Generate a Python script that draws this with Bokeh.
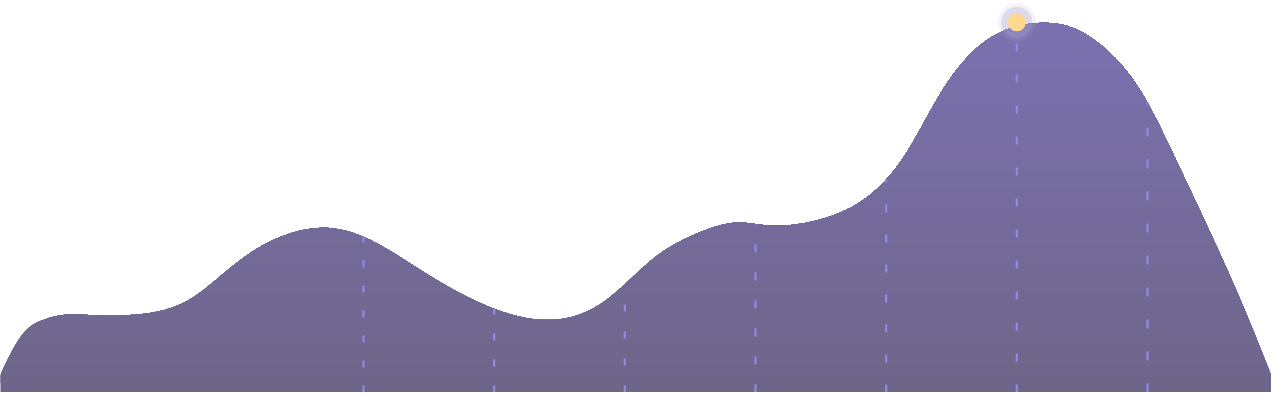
import numpy as np
from bokeh.plotting import figure
from bokeh.models import Range1d
from bokeh.embed import file_html
from bokeh.resources import INLINE

# ---- data ----
# profile of the smooth area: position (category index units) and value (0-100 scale)
profile_x = [0.16, 0.29, 0.41, 0.54, 0.67, 0.93, 1.18, 1.44, 1.69, 1.94, 2.20, 2.46,
             2.71, 3.01, 3.45, 3.96, 4.35, 4.85, 5.23, 5.59, 5.85, 6.11, 6.28, 6.49,
             6.69, 6.90, 7.15, 7.41, 7.66, 7.91, 8.12, 8.43, 8.68, 8.94, 9.21, 9.47,
             9.73, 10.0]
profile_v = [0.0, 9.9, 16.5, 19.5, 20.8, 20.9, 20.9, 22.0, 25.6, 32.5, 39.2, 43.2,
             44.5, 41.9, 32.8, 23.2, 19.7, 24.8, 36.5, 43.5, 45.9, 45.1, 45.3, 46.7,
             49.3, 54.1, 64.5, 80.5, 92.0, 97.9, 99.7, 98.5, 92.8, 81.9, 63.5, 44.0,
             23.5, 0.0]
# categories with a dashed drop line
guide_x = [3, 4, 5, 6, 7, 8, 9]
# highlighted maximum
peak_x = [8]
peak_v = [100.0]


def natural_spline(x, y, xs):
    x = np.asarray(x, float)
    y = np.asarray(y, float)
    n = len(x)
    h = np.diff(x)
    A = np.zeros((n, n))
    b = np.zeros(n)
    A[0, 0] = 1.0
    A[-1, -1] = 1.0
    for i in range(1, n - 1):
        A[i, i - 1] = h[i - 1]
        A[i, i] = 2 * (h[i - 1] + h[i])
        A[i, i + 1] = h[i]
        b[i] = 6 * ((y[i + 1] - y[i]) / h[i] - (y[i] - y[i - 1]) / h[i - 1])
    M = np.linalg.solve(A, b)
    k = np.clip(np.searchsorted(x, xs) - 1, 0, n - 2)
    hk = h[k]
    a = (x[k + 1] - xs) / hk
    c = (xs - x[k]) / hk
    return (a * y[k] + c * y[k + 1]
            + ((a**3 - a) * M[k] + (c**3 - c) * M[k + 1]) * hk**2 / 6.0)


xs = np.linspace(profile_x[0], profile_x[-1], 1400)
ys = np.maximum(natural_spline(profile_x, profile_v, xs), 0)

p = figure(width=1271, height=392, output_backend="svg", toolbar_location=None,
           x_range=Range1d(0.222, 9.949), y_range=Range1d(0, 105.9),
           min_border=0, background_fill_color="white", border_fill_color="white")
p.axis.visible = False
p.grid.visible = False
p.outline_line_color = None

# vertical gradient fill built from stacked bands
top_c = np.array([123, 113, 176])
bot_c = np.array([110, 102, 137])
N = 40
vmax = max(profile_v)
for k in range(N):
    lo = vmax * k / N
    t = k / (N - 1)
    c = (bot_c + (top_c - bot_c) * t).round().astype(int)
    color = "#%02x%02x%02x" % tuple(c)
    p.varea(x=xs, y1=np.full_like(xs, lo), y2=np.maximum(ys, lo), fill_color=color)

# dashed drop lines
guide_top = np.interp(guide_x, xs, ys)
dashes = ["7 18", "7 19", "7 20", "8 20", "8 22", "8 23", "9 23"]
for gx, gt, dsh in zip(guide_x, guide_top, dashes):
    p.segment(x0=[gx], y0=[0], x1=[gx], y1=[gt], line_color="#8f89ec",
              line_width=2.2, line_dash=dsh)

# peak marker with halo
p.scatter(x=peak_x, y=peak_v, size=38, fill_color="#b4aed2", fill_alpha=0.15, line_color=None)
p.scatter(x=peak_x, y=peak_v, size=31, fill_color="#aaa4cc", fill_alpha=0.3, line_color=None)
p.scatter(x=peak_x, y=peak_v, size=18, fill_color="#fed88e", line_color=None)

open("out.html", "w").write(file_html(p, INLINE))
